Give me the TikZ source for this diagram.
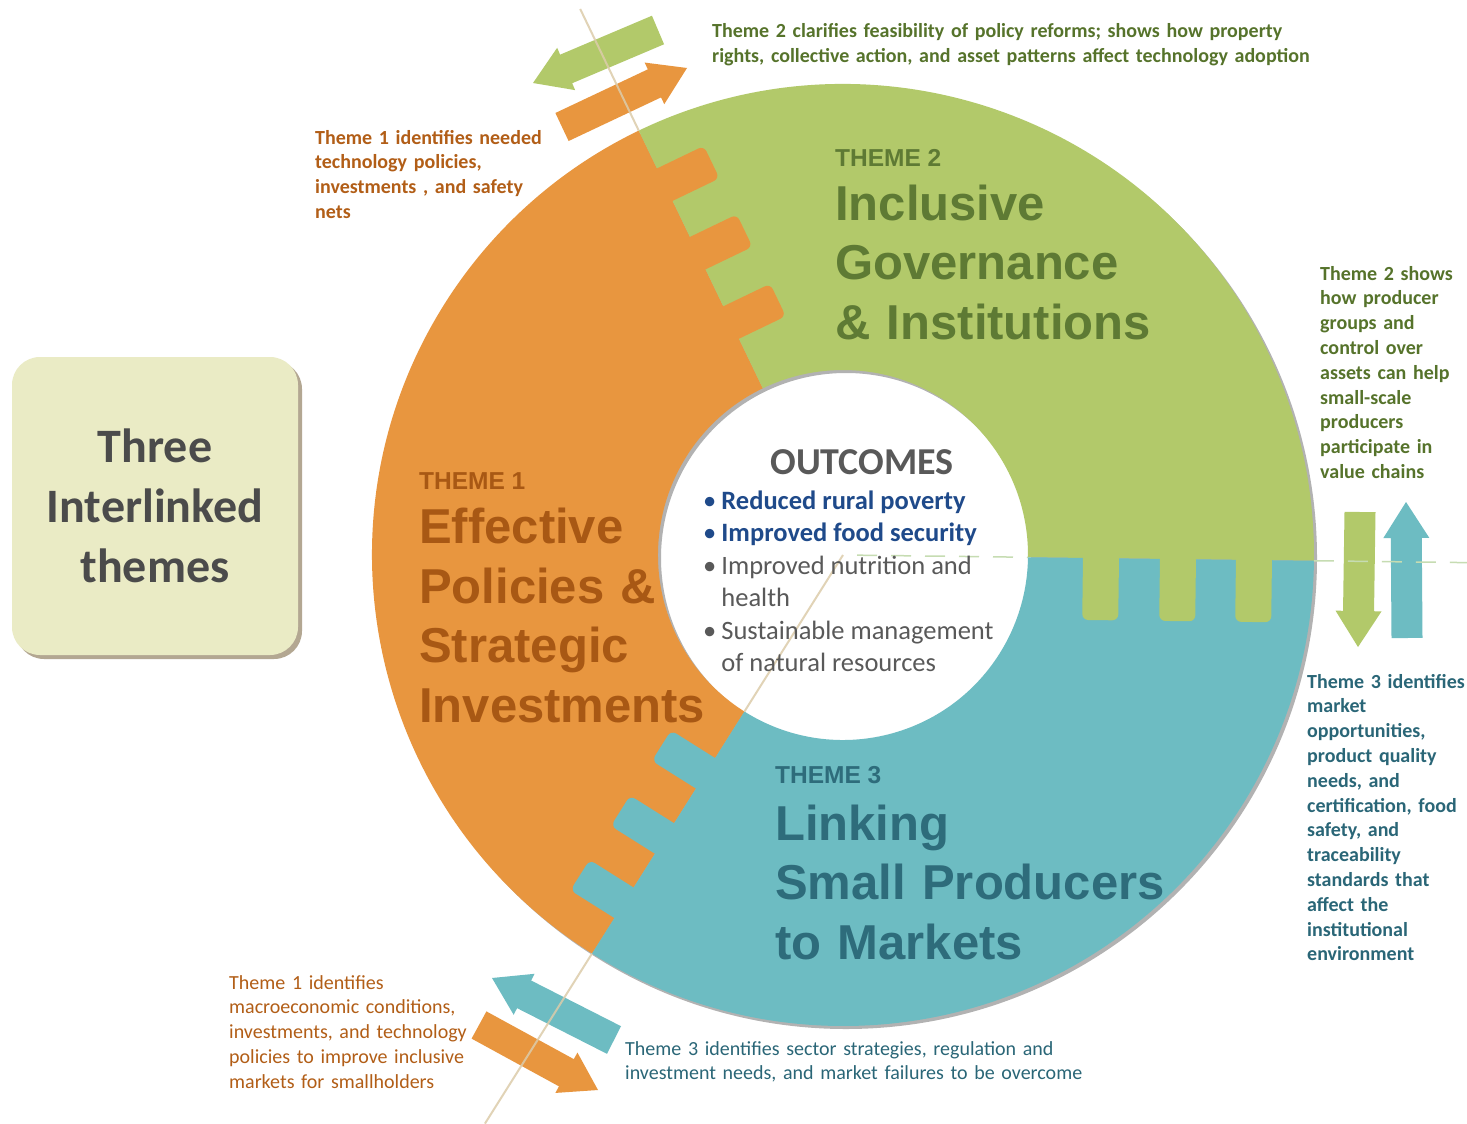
\documentclass[tikz,border=0pt]{standalone}
\usepackage{fontspec}
\setmainfont{Carlito}
\newfontfamily\headfont{Liberation Sans}
\usetikzlibrary{arrows.meta,calc,positioning,shadows}

\definecolor{ringorange}{HTML}{E8963F}
\definecolor{ringgreen}{HTML}{B2C96A}
\definecolor{ringteal}{HTML}{6DBCC2}
\definecolor{noteorange}{HTML}{B25E17}
\definecolor{notegreen}{HTML}{56732B}
\definecolor{noteteal}{HTML}{2A6677}
\definecolor{headorange}{HTML}{A85814}
\definecolor{headgreen}{HTML}{5E7A34}
\definecolor{headteal}{HTML}{2E6C7B}
\definecolor{boxfill}{HTML}{EAEBC5}
\definecolor{boxtext}{HTML}{4B4B4B}
\definecolor{boxshadow}{HTML}{B3A792}
\definecolor{guidetan}{HTML}{DCCCAA}
\definecolor{guidegreen}{HTML}{C6DCB2}
\definecolor{outblue}{HTML}{1F4A8A}
\definecolor{outgray}{HTML}{595959}

\newcommand{\ringtab}[5]{%
  \pgfmathsetmacro\tabin{#2-18}\pgfmathsetmacro\tabout{#2+18}%
  \fill[#5,rounded corners=6pt] ($(c)+(#1:\tabin)+(#3:-8)$) -- ($(c)+(#1:\tabin)+(#3:#4)$)
    -- ($(c)+(#1:\tabout)+(#3:#4)$) -- ($(c)+(#1:\tabout)+(#3:-8)$) -- cycle;}
\newcommand{\fatarrow}[3]{%
  \coordinate (neck) at ($(#2)!36pt!(#1)$);
  \fill[#3] ($(#1)!15.5pt!90:(#2)$) -- ($(neck)!15.5pt!-90:(#1)$) -- ($(neck)!23pt!-90:(#1)$)
    -- (#2) -- ($(neck)!23pt!90:(#1)$) -- ($(neck)!15.5pt!90:(#1)$) -- ($(#1)!15.5pt!-90:(#2)$) -- cycle;}

\begin{document}
\begin{tikzpicture}[x=1pt,y=-1pt,
                    note/.style={font=\fontsize{20}{24.8}\selectfont,align=left,
                                 text width=640pt,inner sep=0pt,anchor=base west},
                    boldnote/.style={note,font=\bfseries\fontsize{20}{24.8}\selectfont},
                    themelabel/.style={font=\headfont\bfseries\fontsize{24.5}{28}\selectfont,
                                       inner sep=0pt,anchor=base west},
                    themetitle/.style={font=\headfont\bfseries\fontsize{49}{59.5}\selectfont,
                                       align=left,text width=420pt,inner sep=0pt}]
  \tikzstyle{guide}=[guidetan,line width=2pt,opacity=.85]
  \tikzstyle{dashguide}=[guidegreen,line width=1.5pt,dash pattern=on 20pt off 14pt]

  \fill[white] (0,0) rectangle (1467,1124);
  \useasboundingbox (0,0) rectangle (1467,1124);
  \coordinate (c) at (843,555);

  \fill[black,opacity=.3,even odd rule] ($(c)+(3,3)$) circle[radius=471] ($(c)+(3,3)$) circle[radius=185];
  \foreach \from/\to/\col in {122.2/244.3/ringorange,244.3/360.7/ringgreen,0.7/122.2/ringteal}
    \fill[\col] ($(c)+(\from:471)$) arc[start angle=\from,end angle=\to,radius=471]
      -- ($(c)+(\to:185)$) arc[start angle=\to,end angle=\from,radius=185] -- cycle;
  \foreach \s in {258,335,411} {
    \ringtab{244.3}{\s}{334.3}{52}{ringorange}
    \ringtab{122.2}{\s}{212.2}{52}{ringteal}
    \ringtab{0.7}{\s}{90.7}{62}{ringgreen}
  }

  \fatarrow{658,30}{533,83}{ringgreen}
  \fatarrow{562,127}{687,68}{ringorange}
  \fatarrow{614,1040}{492,978}{ringteal}
  \fatarrow{479,1025}{598,1090}{ringorange}
  \fatarrow{1360,512}{1358,647}{ringgreen}
  \fatarrow{1407,638}{1406,502}{ringteal}

  \draw[guide] ($(c)+(244.3:471)$) -- ($(c)+(244.3:606)$);
  \draw[guide] (c) -- ($(c)+(122.2:185)$);
  \draw[guide] ($(c)+(122.2:471)$) -- ($(c)+(122.2:672)$);
  \draw[dashguide] ($(c)+(0.7:14)$) -- ($(c)+(0.7:185)$);
  \draw[dashguide] ($(c)+(0.7:471)$) -- ($(c)+(0.7:630)$);

  \node[fill=boxfill,rounded corners=28pt,minimum width=286pt,minimum height=298pt,
        align=center,text=boxtext,font=\bfseries\fontsize{48}{60}\selectfont,
        drop shadow={shadow xshift=4pt,shadow yshift=-4pt,fill=boxshadow,opacity=1}]
        (three) at (155,506) {Three\\Interlinked\\themes};

  \node[themelabel,text=headgreen] (t2label) at (835,166) {THEME 2};
  \node[themetitle,text=headgreen] (t2title) [below=18.5pt of t2label.south west,anchor=north west]
        {Inclusive\\Governance\\\& Institutions};
  \node[themelabel,text=headorange] (t1label) at (419,489) {THEME 1};
  \node[themetitle,text=headorange] (t1title) [below=19pt of t1label.south west,anchor=north west]
        {Effective\\Policies \&\\Strategic\\Investments};
  \node[themelabel,text=headteal] (t3label) at (775,783) {THEME 3};
  \node[themetitle,text=headteal] (t3title) [below=21pt of t3label.south west,anchor=north west]
        {Linking\\Small Producers\\to Markets};

  \node[font=\bfseries\fontsize{38}{40}\selectfont,text=outgray,anchor=base,inner sep=0pt]
        (outhead) at (862,474) {OUTCOMES};
  \node[font=\fontsize{26.5}{32.5}\selectfont,anchor=base west,inner sep=0pt] (outlist) at (703,509) {%
    \begin{tabular}[t]{@{}l@{\hspace{5pt}}l@{}}
      \color{outblue}\textbullet & \color{outblue}\bfseries Reduced rural poverty\\
      \color{outblue}\textbullet & \color{outblue}\bfseries Improved food security\\
      \color{outgray}\textbullet & \color{outgray}Improved nutrition and\\
                                 & \color{outgray}health\\
      \color{outgray}\textbullet & \color{outgray}Sustainable management\\
                                 & \color{outgray}of natural resources
    \end{tabular}};

  \node[boldnote,text=notegreen] (t2top) at (712,38)
        {Theme 2 clarifies feasibility of policy reforms; shows how property\\
         rights, collective action, and asset patterns affect technology adoption};
  \node[boldnote,text=noteorange] (t1top) at (315,144)
        {Theme 1 identifies needed\\technology policies,\\investments , and safety\\nets};
  \node[boldnote,text=notegreen] (t2side) at (1320,280)
        {Theme 2 shows\\how producer\\groups and\\control over\\assets can help\\small-scale\\producers\\participate in\\value chains};
  \node[boldnote,text=noteteal] (t3side) at (1307,688)
        {Theme 3 identifies\\market\\opportunities,\\product quality\\needs, and\\certification, food\\safety, and\\traceability\\standards that\\affect the\\institutional\\environment};
  \node[note,text=noteorange] (t1bottom) at (229,989)
        {Theme 1 identifies\\macroeconomic conditions,\\investments, and technology\\policies to improve inclusive\\markets for smallholders};
  \node[note,text=noteteal] (t3bottom) at (625,1055)
        {Theme 3 identifies sector strategies, regulation and\\investment needs, and market failures to be overcome};
\end{tikzpicture}
\end{document}
